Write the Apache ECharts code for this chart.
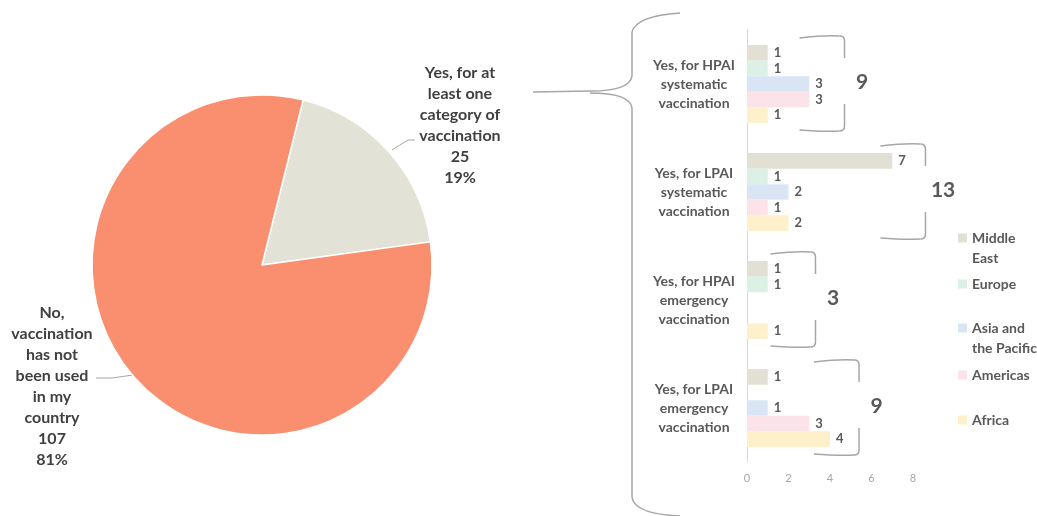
<!DOCTYPE html>
<html>
<head>
<meta charset="utf-8">
<script src="https://cdn.jsdelivr.net/npm/echarts@6/dist/echarts.min.js"></script>
<style>
  html, body { margin: 0; padding: 0; background: #fff; }
  #chart { width: 1037px; height: 516px; }
</style>
</head>
<body>
<div id="chart"></div>
<script>
// pie: did the country vaccinate at all
const pieNames = ['Yes, for at\nleast one\ncategory of\nvaccination', 'No,\nvaccination\nhas not\nbeen used\nin my\ncountry']
const pieValues = [25, 107]

// bars: breakdown of the "yes" answers by region
const categories = [
  'Yes, for HPAI\nsystematic\nvaccination',
  'Yes, for LPAI\nsystematic\nvaccination',
  'Yes, for HPAI\nemergency\nvaccination',
  'Yes, for LPAI\nemergency\nvaccination'
]
const regions = ['Middle\nEast', 'Europe', 'Asia and\nthe Pacific', 'Americas', 'Africa']
const middleEast = [1, 7, 1, 1]
const europe = [1, 1, 1, null]
const asiaPacific = [3, 2, null, 1]
const americas = [3, 1, null, 3]
const africa = [1, 2, 1, 4]
const xTicks = [0, 2, 4, 6, 8]
// where each group's bracket stands, in axis units
const braceAt = [4.7, 8.6, 3.3, 5.4]

const regionValues = [middleEast, europe, asiaPacific, americas, africa]
const regionColors = ['#E2E0D4', '#DCF1E5', '#D9E5F4', '#FCE3EA', '#FEF0CA']
const legendY = [238, 284, 328, 375, 420] // first-line centre of each legend entry
const totals = categories.map((c, i) => regionValues.reduce((s, arr) => s + (arr[i] || 0), 0))

const font = 'Lato, "Open Sans", sans-serif'
const grey = '#595959'
const braceStyle = { stroke: '#A6A6A6', lineWidth: 1.5, fill: null }

const chart = echarts.init(document.getElementById('chart'))

chart.setOption({
  animation: false,
  textStyle: { fontFamily: font },
  grid: { left: 747, right: 124, top: 30, bottom: 54 },
  legend: regions.map((name, i) => {
    const twoLines = name.indexOf('\n') >= 0
    return {
      data: [name],
      orient: 'vertical',
      left: 958,
      top: legendY[i] - (twoLines ? 30 : 10),
      padding: 0,
      icon: 'rect',
      itemWidth: 9,
      itemHeight: 9,
      itemGap: 0,
      selectedMode: false,
      // an empty first line keeps the swatch level with the first word
      formatter: n => (twoLines ? '\n' + n : n),
      textStyle: { fontFamily: font, fontSize: 14, fontWeight: 'bold', color: grey, lineHeight: 20 }
    }
  }),
  xAxis: {
    type: 'value',
    min: xTicks[0],
    max: xTicks[xTicks.length - 1],
    interval: 2,
    axisLine: { show: false },
    axisTick: { show: false },
    splitLine: { show: false },
    axisLabel: { color: '#A6A6A6', fontSize: 11, margin: 11 }
  },
  yAxis: {
    type: 'category',
    inverse: true,
    data: categories,
    axisLine: { show: true, lineStyle: { color: '#D9D9D9', width: 1 } },
    axisTick: { show: false },
    axisLabel: {
      align: 'center',
      margin: 53,
      fontSize: 14,
      fontWeight: 'bold',
      color: grey,
      lineHeight: 19
    }
  },
  series: [
    {
      type: 'pie',
      center: [262, 265],
      radius: 170,
      startAngle: 76,
      data: pieNames.map((n, i) => ({ name: n, value: pieValues[i] })),
      color: ['#E3E2D7', '#FA8F70'],
      itemStyle: { borderColor: '#fff', borderWidth: 1.5 },
      label: {
        formatter: '{b}\n{c}\n{d}%',
        align: 'center',
        fontSize: 16,
        fontWeight: 'bold',
        color: '#404040',
        lineHeight: 21,
        overflow: 'none',
        edgeDistance: 0
      },
      percentPrecision: 0,
      labelLine: { show: true, lineStyle: { color: '#A6A6A6', width: 1 } },
      labelLayout(p) {
        if (p.dataIndex === 0) {
          return { x: 460, y: 125, align: 'center', verticalAlign: 'middle',
            labelLinePoints: [[392, 150], [408, 140], [415, 140]] }
        }
        return { x: 52, y: 386, align: 'center', verticalAlign: 'middle',
          labelLinePoints: [[133, 375], [112, 378], [96, 378]] }
      }
    }
  ].concat(regions.map((name, i) => ({
    type: 'bar',
    name: name,
    data: regionValues[i],
    barGap: 0,
    barCategoryGap: '28%',
    itemStyle: { color: regionColors[i] },
    label: {
      show: true,
      position: 'right',
      distance: 6,
      fontSize: 13,
      fontWeight: 'bold',
      color: grey
    }
  })))
})

function seg(x1, y1, x2, y2) {
  return { type: 'line', shape: { x1, y1, x2, y2 }, style: braceStyle, silent: true }
}
function curve(x1, y1, cpx1, cpy1, x2, y2) {
  return { type: 'bezierCurve', shape: { x1, y1, cpx1, cpy1, x2, y2 }, style: braceStyle, silent: true }
}

// brackets with group totals, plus the big brace linking the pie to the bars
function drawBraces() {
  const els = []
  categories.forEach((c, i) => {
    const cy = chart.convertToPixel({ yAxisIndex: 0 }, i)
    const xv = chart.convertToPixel({ xAxisIndex: 0 }, braceAt[i])
    const top = cy - 48
    const bot = cy + 47
    els.push(curve(xv - 45, top + 2, xv - 20, top - 1, xv - 5, top))
    els.push(curve(xv - 5, top, xv, top, xv, top + 5))
    els.push(seg(xv, top + 5, xv, cy - 26))
    els.push(seg(xv, cy + 20, xv, bot - 5))
    els.push(curve(xv, bot - 5, xv, bot, xv - 5, bot))
    els.push(curve(xv - 5, bot, xv - 20, bot + 1, xv - 45, bot - 1))
    els.push({
      type: 'text',
      x: chart.convertToPixel({ xAxisIndex: 0 }, braceAt[i] + 0.85),
      y: cy - 2,
      style: {
        text: String(totals[i]),
        fontFamily: font,
        fontSize: 21,
        fontWeight: 'bold',
        fill: grey,
        align: 'center',
        verticalAlign: 'middle'
      },
      silent: true
    })
  })
  els.push(curve(680, 13, 636, 16, 632, 32))
  els.push(seg(632, 32, 632, 76))
  els.push(curve(632, 76, 630, 91, 590, 91))
  els.push(seg(590, 91, 533, 92))
  els.push(curve(590, 93, 630, 93, 632, 108))
  els.push(seg(632, 108, 632, 497))
  els.push(curve(632, 497, 634, 514, 680, 516))
  chart.setOption({ graphic: { elements: els } })
}
drawBraces()
</script>
</body>
</html>
